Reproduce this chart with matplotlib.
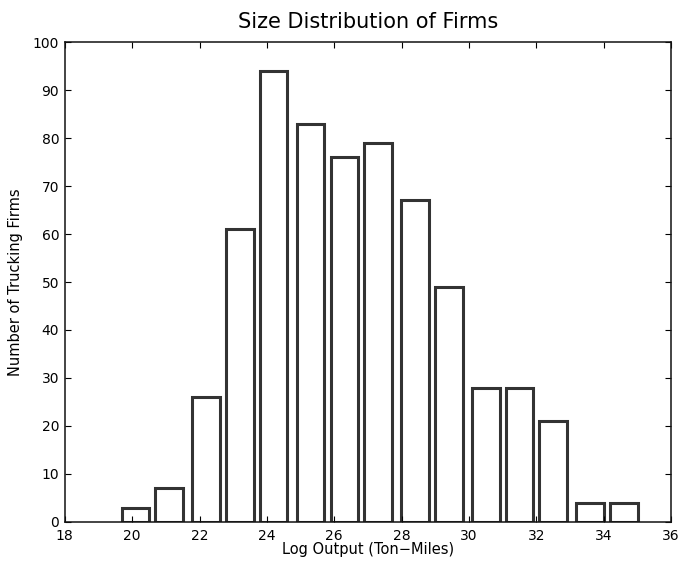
import matplotlib
matplotlib.use("Agg")
import matplotlib.pyplot as plt

# bin centres (log ton-miles) and firm counts
centres = [20.1, 21.1, 22.2, 23.2, 24.2, 25.3, 26.3, 27.3, 28.4, 29.4, 30.5, 31.5, 32.5, 33.6, 34.6]
counts = [3, 7, 26, 61, 94, 83, 76, 79, 67, 49, 28, 28, 21, 4, 4]
xticks = list(range(18, 37, 2))
yticks = list(range(0, 101, 10))

plt.rcParams['font.family'] = ['DejaVu Sans']

fig = plt.figure(figsize=(6.82, 5.64), dpi=100)
ax = fig.add_axes([0.095, 0.0745, 0.889, 0.851])

ax.bar(centres, counts, width=0.82, color='white', edgecolor='#333333', linewidth=2.2)

ax.set_xlim(18, 36)
ax.set_ylim(0, 100)
ax.set_xticks(xticks)
ax.set_yticks(yticks)
ax.tick_params(direction='in', top=True, right=True, labelsize=10, length=4, width=0.8)
ax.tick_params(axis='x', pad=5)
ax.tick_params(axis='y', pad=4)
for s in ax.spines.values():
    s.set_linewidth(1.1)
    s.set_color('#111111')

ax.set_title("Size Distribution of Firms", fontsize=15, pad=10)
ax.set_xlabel("Log Output (Ton\u2212Miles)", fontsize=10.5, labelpad=-1)
ax.set_ylabel("Number of Trucking Firms", fontsize=10.5, labelpad=7)

fig.savefig("out.png", dpi=100)
